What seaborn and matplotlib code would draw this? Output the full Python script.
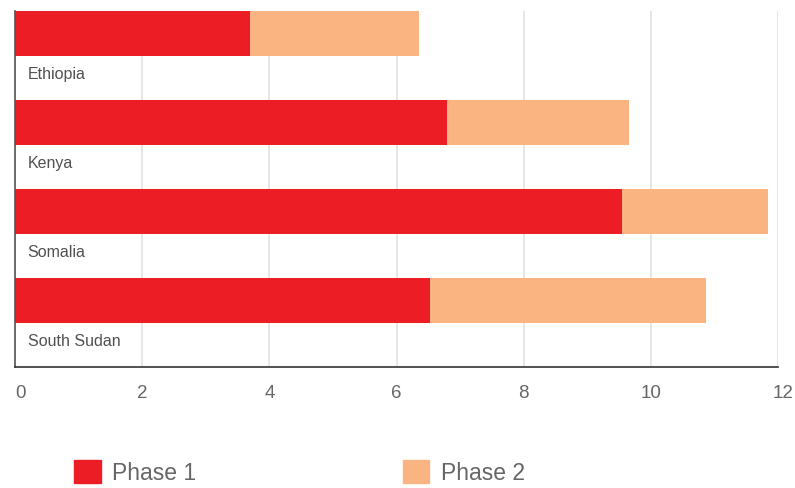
import matplotlib
matplotlib.use("Agg")
import matplotlib.pyplot as plt
import matplotlib.patches as mpatches
import matplotlib.transforms as mtransforms
import seaborn as sns
import pandas as pd

countries = ["Ethiopia", "Kenya", "Somalia", "South Sudan"]
phase1 = [3.69, 6.79, 9.55, 6.53]
phase2 = [2.67, 2.86, 2.30, 4.33]
series_names = ["Phase 1", "Phase 2"]
x_ticks = [0, 2, 4, 6, 8, 10, 12]

RED = "#ED1D25"
PEACH = "#F9B482"
TEXT = "#505050"

sns.set_theme(style="white")
plt.rcParams["font.family"] = ["Liberation Sans", "DejaVu Sans"]

df = pd.DataFrame({
    "country": countries,
    "phase1": phase1,
    "total": [a + b for a, b in zip(phase1, phase2)],
})

fig = plt.figure(figsize=(7.95, 4.89), dpi=100)
ax = fig.add_axes([15 / 795, 1 - 368 / 489, (778 - 15) / 795, (368 - 12) / 489])

# stacked bars: full length in the second colour, first phase drawn over it
sns.barplot(data=df, x="total", y="country", orient="h", color=PEACH,
            width=0.5, saturation=1, linewidth=0, ax=ax)
sns.barplot(data=df, x="phase1", y="country", orient="h", color=RED,
            width=0.5, saturation=1, linewidth=0, ax=ax)

ax.set_xlim(0, 12)
ax.set_ylim(3.75, -0.25)
ax.set_xticks(x_ticks)
ax.set_xticklabels([str(t) for t in x_ticks])
ax.set_yticks([])
ax.set_xlabel("")
ax.set_ylabel("")

ax.grid(axis="x", color="#e6e6e6", linewidth=1.4)
ax.set_axisbelow(True)
ax.tick_params(axis="x", length=0, pad=12, labelsize=13.5, labelcolor="#666666")

# nudge the end labels so they clear the axis corners
labels = ax.get_xticklabels()
for lbl, dx in ((labels[0], 6), (labels[-1], 5)):
    lbl.set_transform(lbl.get_transform() +
                      mtransforms.ScaledTranslation(dx / 100, 0, fig.dpi_scale_trans))

for side in ("top", "right"):
    ax.spines[side].set_visible(False)
ax.spines["left"].set_color("#555555")
ax.spines["left"].set_linewidth(1.2)
ax.spines["bottom"].set_color("#333333")
ax.spines["bottom"].set_linewidth(1.2)

# category names sit below each bar, inside the plot
for i, name in enumerate(countries):
    ax.text(0.2, i + 0.45, name, ha="left", va="center",
            fontsize=11.5, color=TEXT)

handles = [mpatches.Patch(color=RED, label=series_names[0]),
           mpatches.Patch(color=PEACH, label=series_names[1])]
fig.legend(handles=handles, loc="center left",
           bbox_to_anchor=(74 / 795, 1 - 473 / 489), ncol=2, frameon=False,
           fontsize=16.5, labelcolor="#666666", handlelength=1.17,
           handleheight=1.17, handletextpad=0.5, columnspacing=9.0,
           borderpad=0, borderaxespad=0)

fig.savefig("out.png", dpi=100)
